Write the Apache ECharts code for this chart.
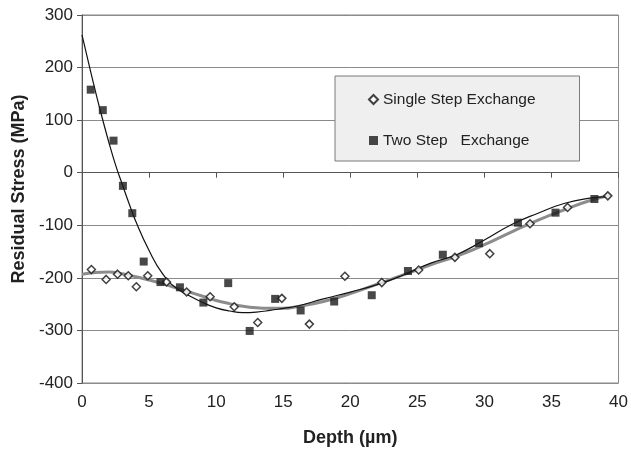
<!DOCTYPE html>
<html>
<head>
<meta charset="utf-8">
<script src="https://cdn.jsdelivr.net/npm/echarts@6/dist/echarts.min.js"></script>
<style>
  html, body { margin: 0; padding: 0; background: #fff; }
  #chart { width: 631px; height: 452px; }
</style>
</head>
<body>
<div id="chart"></div>
<script>
// measured points
const singleX = [0.7, 1.8, 2.65, 3.45, 4.05, 4.9, 6.3, 7.8, 9.55, 11.35, 13.1, 14.9, 16.95, 19.6, 22.35, 25.1, 27.8, 30.4, 33.4, 36.2, 39.2]
const singleY = [-184, -203, -193, -196, -217, -196, -208, -227, -236, -255, -285, -239, -288, -197, -209, -185, -161, -154, -97, -66, -44]
const twoX = [0.65, 1.55, 2.35, 3.05, 3.75, 4.6, 5.85, 7.3, 9.05, 10.9, 12.5, 14.4, 16.3, 18.8, 21.6, 24.3, 26.9, 29.6, 32.5, 35.3, 38.2]
const twoY = [158, 119, 61, -25, -77, -169, -208, -218, -247, -210, -301, -240, -262, -245, -233, -187, -156, -134, -95, -76, -50]

// trend lines
const singleFitX = [0, 1, 2, 3, 4, 5, 6, 7, 8, 9, 10, 11, 12, 13, 14, 15, 16, 18, 20, 22, 24, 26, 28, 30, 32, 34, 36, 38, 39.4]
const singleFitY = [-193, -190, -189, -192, -198, -204, -211, -219, -227, -235, -243, -249, -254, -257, -258, -258, -255, -245, -230, -212, -194, -175, -158, -137, -113, -90, -70, -52, -43]
const twoFitX = [0, 0.5, 1, 1.5, 2, 2.5, 3, 3.5, 4, 5, 6, 7, 8, 9, 10, 11, 12, 13, 14, 15, 16, 18, 20, 22, 24, 26, 28, 30, 32, 34, 36, 38, 39]
const twoFitY = [262, 208, 155, 105, 58, 15, -22, -58, -92, -148, -192, -219, -234, -247, -257, -263, -266, -265, -262, -258, -254, -240, -227, -213, -194, -172, -155, -128, -99, -77, -58, -48, -46]

const xTicks = [0, 40, 5]
const yTicks = [-400, 300, 100]

const zip = (xs, ys) => xs.map((x, i) => [x, ys[i]])

const chart = echarts.init(document.getElementById('chart'))
const font = 'Liberation Sans, Arial, sans-serif'

chart.setOption({
  animation: false,
  backgroundColor: '#fff',
  textStyle: { fontFamily: font },
  grid: { left: 82, right: 9, top: 15, bottom: 69, show: true, borderColor: '#888', borderWidth: 1 },
  legend: {
    orient: 'vertical',
    left: 335,
    top: 76,
    padding: [15, 44, 12, 33],
    itemGap: 24,
    itemWidth: 9,
    itemHeight: 9,
    backgroundColor: '#efefef',
    borderColor: '#7a7a7a',
    borderWidth: 1,
    textStyle: { fontSize: 15.5, color: '#222', lineHeight: 17, fontFamily: font },
    data: ['Single Step Exchange', 'Two Step   Exchange']
  },
  xAxis: {
    type: 'value',
    min: xTicks[0],
    max: xTicks[1],
    interval: xTicks[2],
    name: 'Depth (µm)',
    nameLocation: 'middle',
    nameGap: 46,
    nameTextStyle: { fontSize: 18, fontWeight: 'bold', color: '#222', fontFamily: font },
    axisLine: { lineStyle: { color: '#555', width: 1 } },
    axisTick: { show: true, length: 5, lineStyle: { color: '#555' } },
    axisLabel: { fontSize: 17, color: '#222', margin: 11 },
    splitLine: { show: false }
  },
  yAxis: {
    type: 'value',
    min: yTicks[0],
    max: yTicks[1],
    interval: yTicks[2],
    name: 'Residual Stress (MPa)',
    nameLocation: 'middle',
    nameGap: 51,
    nameTextStyle: { fontSize: 18, fontWeight: 'bold', color: '#222', fontFamily: font, padding: [0, 0, 0, 20] },
    axisLine: { show: true, lineStyle: { color: '#555', width: 1 } },
    axisTick: { show: true, length: 5, lineStyle: { color: '#555' } },
    axisLabel: { fontSize: 17, color: '#222', margin: 9 },
    splitLine: { show: true, lineStyle: { color: '#8a8a8a', width: 1 } }
  },
  series: [
    {
      name: 'single fit',
      type: 'line',
      data: zip(singleFitX, singleFitY),
      smooth: true,
      showSymbol: false,
      lineStyle: { color: '#8c8c8c', width: 3 },
      z: 2
    },
    {
      name: 'two fit',
      type: 'line',
      data: zip(twoFitX, twoFitY),
      smooth: true,
      showSymbol: false,
      lineStyle: { color: '#111', width: 1.2 },
      z: 3
    },
    {
      name: 'Single Step Exchange',
      type: 'scatter',
      data: zip(singleX, singleY),
      symbol: 'diamond',
      symbolSize: 8,
      itemStyle: { color: '#fff', borderColor: '#111', borderWidth: 1.5 },
      z: 4
    },
    {
      name: 'Two Step   Exchange',
      type: 'scatter',
      data: zip(twoX, twoY),
      symbol: 'rect',
      symbolSize: 8,
      itemStyle: { color: '#1a1a1a' },
      z: 5
    }
  ]
})
</script>
</body>
</html>
